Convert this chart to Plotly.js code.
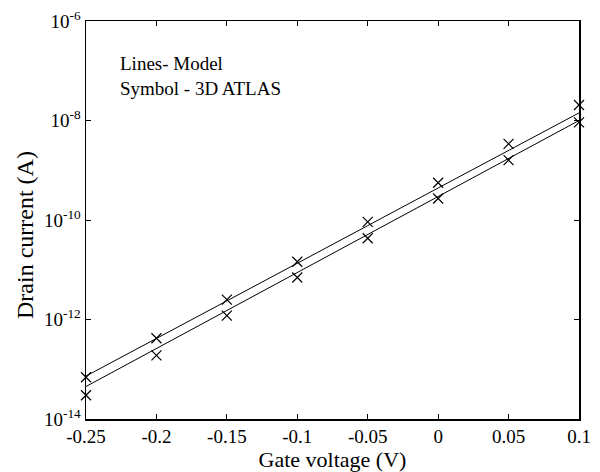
<!DOCTYPE html>
<html>
<head>
<meta charset="utf-8">
<script src="https://cdn.plot.ly/plotly-3.0.1.min.js"></script>
<style>html,body{margin:0;padding:0;background:#fff;}#chart{width:600px;height:472px;}</style>
</head>
<body>
<div id="chart"></div>
<script>
const gateVoltage = [-0.25, -0.2, -0.15, -0.1, -0.05, 0, 0.05, 0.1];
const atlasUpper = [6.9e-14, 4.2e-13, 2.5e-12, 1.45e-11, 9.2e-11, 5.6e-10, 3.4e-9, 2.05e-8];
const atlasLower = [3.0e-14, 1.9e-13, 1.2e-12, 7.0e-12, 4.3e-11, 2.7e-10, 1.6e-9, 9.2e-9];
const modelUpper = [7.3e-14, 4.2e-13, 2.4e-12, 1.35e-11, 7.7e-11, 4.4e-10, 2.5e-9, 1.42e-8];
const modelLower = [4.5e-14, 2.6e-13, 1.5e-12, 8.8e-12, 5.1e-11, 3.0e-10, 1.7e-9, 1.0e-8];
const xTickVals = [-0.25, -0.2, -0.15, -0.1, -0.05, 0, 0.05, 0.1];
const xTickText = ['-0.25', '-0.2', '-0.15', '-0.1', '-0.05', '0', '0.05', '0.1'];
const yTickVals = [1e-14, 1e-12, 1e-10, 1e-8, 1e-6];
const yTickText = ['10<sup>-14</sup>', '10<sup>-12</sup>', '10<sup>-10</sup>', '10<sup>-8</sup>', '10<sup>-6</sup>'];

const FONT = 'Liberation Serif, Times New Roman, serif';
const lineStyle = {color: '#000', width: 1};
const markerStyle = {symbol: 'x-thin-open', size: 10, color: '#000', line: {color: '#000', width: 1.2}};

const traces = [
  {x: gateVoltage, y: modelUpper, mode: 'lines', line: lineStyle, showlegend: false, cliponaxis: false},
  {x: gateVoltage, y: modelLower, mode: 'lines', line: lineStyle, showlegend: false, cliponaxis: false},
  {x: gateVoltage, y: atlasUpper, mode: 'markers', marker: markerStyle, showlegend: false, cliponaxis: false},
  {x: gateVoltage, y: atlasLower, mode: 'markers', marker: markerStyle, showlegend: false, cliponaxis: false}
];

const layout = {
  width: 600, height: 472,
  margin: {l: 86, r: 21, t: 21, b: 53},
  paper_bgcolor: '#fff', plot_bgcolor: '#fff',
  font: {family: FONT, color: '#000', size: 19},
  showlegend: false,
  xaxis: {
    range: [-0.25, 0.1],
    tickvals: xTickVals, ticktext: xTickText,
    ticks: 'inside', ticklen: 5, tickwidth: 1, tickcolor: '#000',
    showline: true, linecolor: '#000', linewidth: 1.5, mirror: 'ticks',
    showgrid: false, zeroline: false,
    tickfont: {family: FONT, size: 19, color: '#000'},
    title: {text: 'Gate voltage (V)', font: {family: FONT, size: 22, color: '#000'}, standoff: 0}
  },
  yaxis: {
    type: 'log',
    range: [-14, -6],
    tickvals: yTickVals, ticktext: yTickText,
    ticks: 'inside', ticklen: 5, tickwidth: 1, tickcolor: '#000',
    showline: true, linecolor: '#000', linewidth: 1.5, mirror: 'ticks',
    showgrid: false, zeroline: false,
    tickfont: {family: FONT, size: 19, color: '#000'}
  },
  annotations: [
    {xref: 'paper', yref: 'paper', x: 0.065, y: 0.925, xanchor: 'left', yanchor: 'top', align: 'left', showarrow: false,
     text: 'Lines- Model<br>Symbol - 3D ATLAS', font: {family: FONT, size: 19, color: '#000'}},
    {xref: 'paper', yref: 'paper', x: -0.124, y: 0.462, xanchor: 'center', yanchor: 'middle', textangle: -90, showarrow: false,
     text: 'Drain current (A)', font: {family: FONT, size: 24, color: '#000'}}
  ]
};

Plotly.newPlot('chart', traces, layout, {displayModeBar: false, staticPlot: true});
</script>
</body>
</html>
